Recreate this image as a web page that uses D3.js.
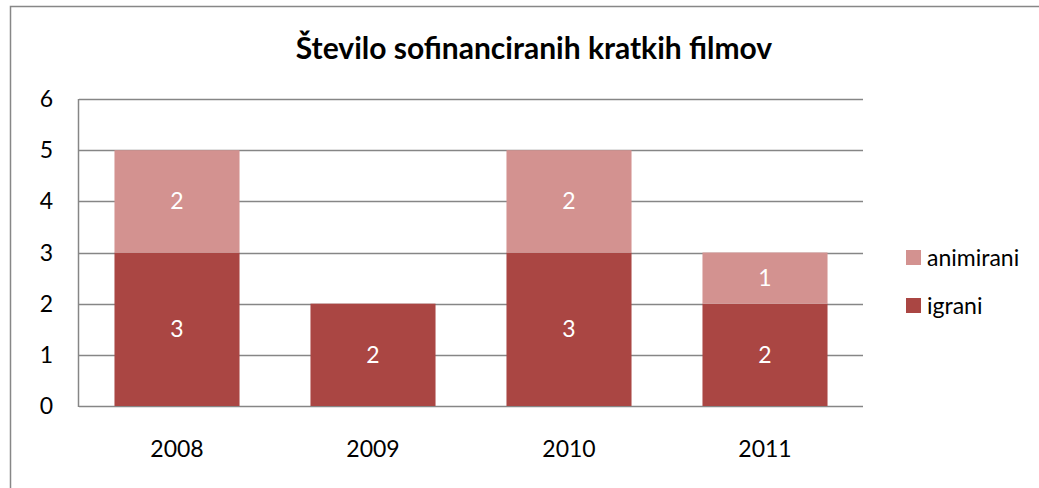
<!DOCTYPE html>
<html>
<head>
<meta charset="utf-8">
<script src="https://cdn.jsdelivr.net/npm/d3@7"></script>
<style>
  html, body { margin: 0; padding: 0; background: #fff; }
  svg { display: block; font-family: Lato, "Open Sans", sans-serif; }
</style>
</head>
<body>
<script>
  const years = ['2008', '2009', '2010', '2011'];
  const igrani = [3, 2, 3, 2];
  const animirani = [2, 0, 2, 1];
  const seriesNames = ['igrani', 'animirani'];
  const seriesColors = ['#AA4643', '#D39290'];
  const yTicks = [0, 1, 2, 3, 4, 5, 6];

  const width = 1039, height = 488;
  const margin = { top: 99, left: 79, right: 1039 - 863, bottom: 488 - 406 };
  const fontSize = '23px';

  const svg = d3.select('body').append('svg')
    .attr('width', width)
    .attr('height', height);

  // chart frame
  svg.append('rect')
    .attr('x', 10.5).attr('y', 6.5)
    .attr('width', 1040).attr('height', 500)
    .attr('fill', '#fff')
    .attr('stroke', '#878787')
    .attr('stroke-width', 1.5);

  svg.append('text')
    .attr('x', 534).attr('y', 59)
    .attr('text-anchor', 'middle')
    .style('font-size', '30px')
    .style('font-weight', 'bold')
    .attr('fill', '#000')
    .text('Število sofinanciranih kratkih filmov');

  const x = d3.scaleBand()
    .domain(years)
    .range([margin.left, width - margin.right])
    .paddingInner(0.362)
    .paddingOuter(0.181);

  const y = d3.scaleLinear()
    .domain([0, 6])
    .range([height - margin.bottom, margin.top]);

  // gridlines
  svg.append('g')
    .selectAll('line')
    .data(yTicks)
    .join('line')
    .attr('x1', margin.left)
    .attr('x2', width - margin.right)
    .attr('y1', d => Math.round(y(d)) + 0.5)
    .attr('y2', d => Math.round(y(d)) + 0.5)
    .attr('stroke', '#868686')
    .attr('stroke-width', 1.5);

  // y tick labels
  svg.append('g')
    .selectAll('text')
    .data(yTicks)
    .join('text')
    .attr('x', 53)
    .attr('y', d => y(d))
    .attr('dy', '0.35em')
    .attr('text-anchor', 'end')
    .style('font-size', fontSize)
    .text(d => d);

  // stacked bars
  const rows = years.map((yr, i) => ({ year: yr, igrani: igrani[i], animirani: animirani[i] }));
  const stack = d3.stack().keys(seriesNames)(rows);

  const layer = svg.append('g')
    .selectAll('g')
    .data(stack)
    .join('g')
    .attr('fill', (d, i) => seriesColors[i]);

  layer.selectAll('rect')
    .data(d => d.filter(s => s[1] > s[0]))
    .join('rect')
    .attr('x', d => x(d.data.year))
    .attr('width', x.bandwidth())
    .attr('y', d => y(d[1]))
    .attr('height', d => y(d[0]) - y(d[1]));

  layer.selectAll('text')
    .data(d => d.filter(s => s[1] > s[0]))
    .join('text')
    .attr('x', d => x(d.data.year) + x.bandwidth() / 2)
    .attr('y', d => (y(d[0]) + y(d[1])) / 2)
    .attr('dy', '0.35em')
    .attr('text-anchor', 'middle')
    .attr('fill', '#fff')
    .style('font-size', fontSize)
    .text(d => d[1] - d[0]);

  // axes lines
  svg.append('line')
    .attr('x1', margin.left - 0.5).attr('x2', margin.left - 0.5)
    .attr('y1', margin.top).attr('y2', y(0) + 1)
    .attr('stroke', '#868686').attr('stroke-width', 1.5);

  // x labels
  svg.append('g')
    .selectAll('text')
    .data(years)
    .join('text')
    .attr('x', d => x(d) + x.bandwidth() / 2)
    .attr('y', 457)
    .attr('text-anchor', 'middle')
    .style('font-size', fontSize)
    .text(d => d);

  // legend
  const legendItems = [
    { name: 'animirani', color: seriesColors[1] },
    { name: 'igrani', color: seriesColors[0] }
  ];
  const lg = svg.append('g')
    .selectAll('g')
    .data(legendItems)
    .join('g')
    .attr('transform', (d, i) => `translate(906,${250 + i * 48})`);
  lg.append('rect')
    .attr('width', 15).attr('height', 15)
    .attr('fill', d => d.color);
  lg.append('text')
    .attr('x', 21).attr('y', 7.5)
    .attr('dy', '0.35em')
    .style('font-size', fontSize)
    .text(d => d.name);
</script>
</body>
</html>
